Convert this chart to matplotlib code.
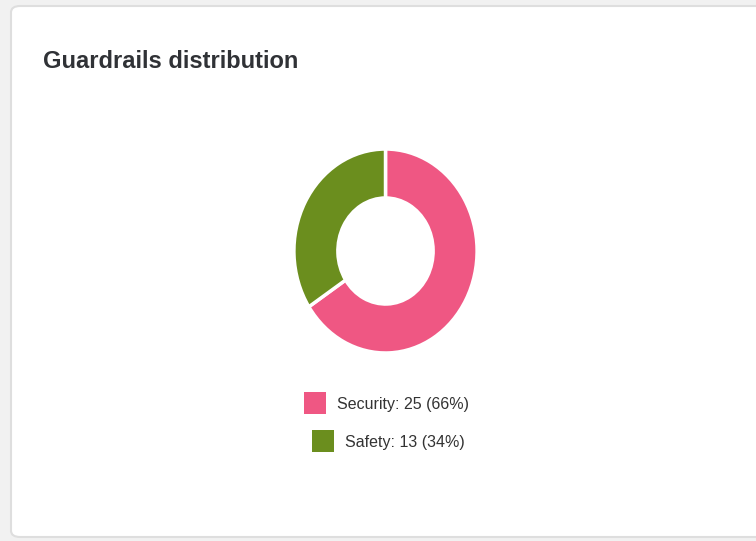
import matplotlib.pyplot as plt
from matplotlib.patches import FancyBboxPatch, Rectangle

labels = ["Security", "Safety"]
counts = [25, 13]
colors = ["#ef5783", "#6b8e1e"]
title = "Guardrails distribution"

W, H = 756, 541
fig = plt.figure(figsize=(W / 100, H / 100), dpi=100)
fig.patch.set_facecolor("#f1f1f1")

def fx(px):
    return px / W

def fy(py):
    return 1 - py / H

# card background, kept behind the donut axes
card = FancyBboxPatch((fx(11), fy(537)), fx(780) - fx(11), fy(6) - fy(537),
                      boxstyle="round,pad=0,rounding_size=0.012",
                      transform=fig.transFigure, fc="white", ec="#dedede", lw=1.5,
                      zorder=-10)
fig.patches.append(card)

fig.text(fx(43), fy(62), title, fontsize=17, fontweight="bold", color="#303236",
         family="Liberation Sans", va="center", ha="left")

# donut (slightly stretched vertically like the reference)
ax = fig.add_axes([fx(293), fy(354), fx(478) - fx(293), fy(148) - fy(354)])
ax.pie(counts, colors=colors, startangle=90, counterclock=False,
       wedgeprops=dict(width=0.48, edgecolor="white", linewidth=2.5))
ax.set_aspect("auto")
ax.set_xlim(-1.01, 1.01)
ax.set_ylim(-1.01, 1.01)
ax.axis("off")

# legend
total = sum(counts)
rows = [(304, 403), (312, 441)]
for (x0, yc), lab, n, c in zip(rows, labels, counts, colors):
    fig.patches.append(Rectangle((fx(x0), fy(yc + 11)), fx(22), fy(0) - fy(22),
                                 transform=fig.transFigure, fc=c, ec="none"))
    fig.text(fx(x0 + 33), fy(yc + 1), f"{lab}: {n} ({round(100 * n / total)}%)",
             fontsize=11.5, color="#333333", family="Liberation Sans",
             va="center", ha="left")

fig.savefig("out.png", dpi=100)
